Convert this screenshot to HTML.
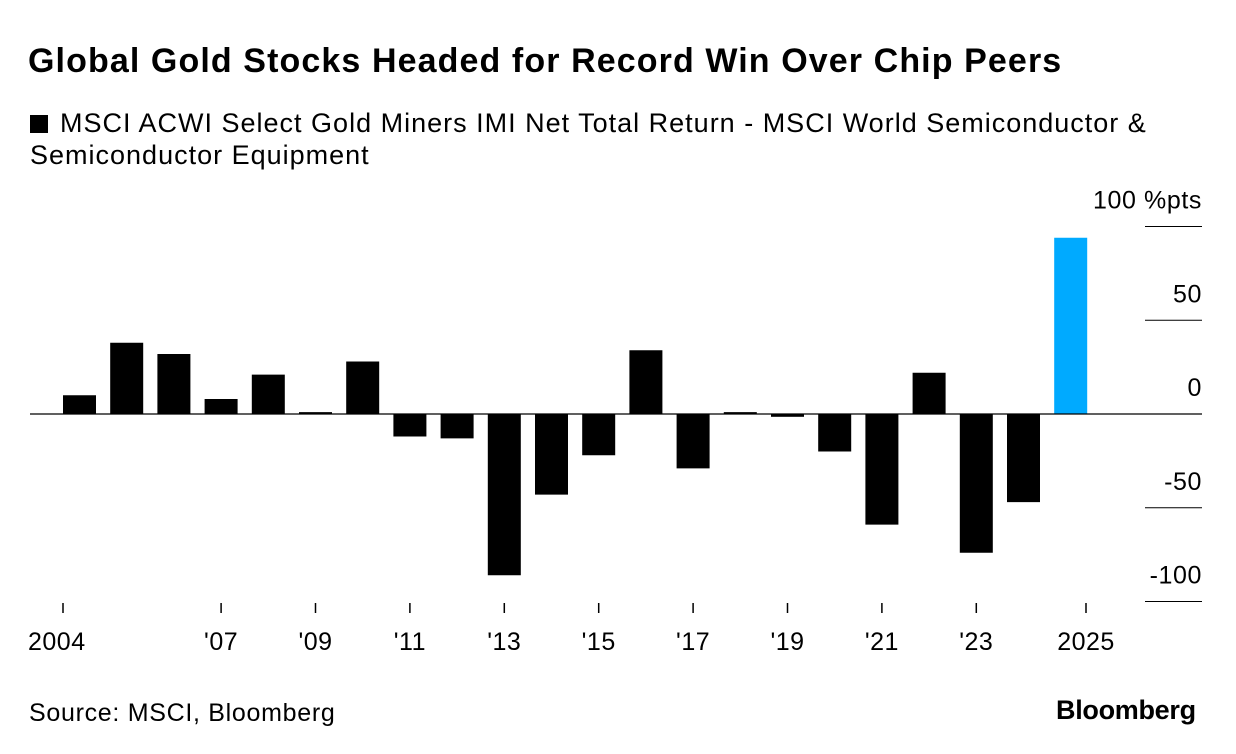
<!DOCTYPE html>
<html><head><meta charset="utf-8"><style>
body{margin:0;background:#fff;font-family:"Liberation Sans",sans-serif;}
#wrap{position:relative;width:1236px;height:754px;overflow:hidden;}
.t{position:absolute;color:#000;white-space:nowrap;}
</style></head><body>
<div id="wrap">
<div class="t" style="left:28px;top:42px;font-size:34px;font-weight:bold;letter-spacing:1.1px">Global Gold Stocks Headed for Record Win Over Chip Peers</div>
<div class="t" style="left:30px;top:107px;font-size:27px;line-height:32px;letter-spacing:1px"><span style="display:inline-block;width:18px;height:18px;background:#000;margin-right:12px;vertical-align:-1px"></span>MSCI ACWI Select Gold Miners IMI Net Total Return - MSCI World Semiconductor &amp;<br>Semiconductor Equipment</div>
<svg id="chart" width="1236" height="754" style="position:absolute;left:0;top:0"></svg>
<div class="t" style="left:29px;top:699px;font-size:25px;letter-spacing:0.7px">Source: MSCI, Bloomberg</div>
<div class="t" style="left:1056px;top:695px;font-size:27px;font-weight:bold;letter-spacing:-0.3px">Bloomberg</div>
</div>
<script>
const years=[2004,2005,2006,2007,2008,2009,2010,2011,2012,2013,2014,2015,2016,2017,2018,2019,2020,2021,2022,2023,2024,2025];
const values=[10,38,32,8,21,1,28,-12,-13,-86,-43,-22,34,-29,1,-1.5,-20,-59,22,-74,-47,94];
const yTicks=[100,50,0,-50,-100];
const xTickYears=[2004,2007,2009,2011,2013,2015,2017,2019,2021,2023,2025];
const xTickLabels=["2004","'07","'09","'11","'13","'15","'17","'19","'21","'23","2025"];
const NS="http://www.w3.org/2000/svg";
const svg=document.getElementById('chart');
const y0=414,ppu=1.875;
const yS=v=>y0-v*ppu;
const xS=yr=>79.5+(yr-2004)*47.2;
const bw=33;
function mk(t,a){const e=document.createElementNS(NS,t);for(const k in a)e.setAttribute(k,a[k]);svg.appendChild(e);return e;}
yTicks.forEach((v,i)=>{
  const l=mk('line',{x1:1145,x2:1202,y1:yS(v),y2:yS(v),stroke:'#000','stroke-width':1});
  
  
  const t=mk('text',{x:1202,y:yS(v)-18,'text-anchor':'end','font-size':25,'letter-spacing':0.6,'font-family':'Liberation Sans, sans-serif'});
  t.textContent=v+(i===0?' %pts':'');
  
  
});
years.forEach((yr,i)=>{
  const v=values[i];
  const r=mk('rect',{x:xS(yr)-bw/2,y:Math.min(yS(v),y0),width:bw,height:Math.abs(yS(v)-y0),fill:yr===2025?'#00aaff':'#000'});
  
  
});
const z=mk('line',{x1:30,x2:1202,y1:y0,y2:y0,stroke:'#000','stroke-width':1.2});


xTickYears.forEach((yr,i)=>{
  let x=xS(yr);
  if(yr===2004)x=63; if(yr===2025)x=1086;
  const l=mk('line',{x1:x,x2:x,y1:603,y2:613,stroke:'#000','stroke-width':1.5});
  
  
  const t=mk('text',{x:yr===2004?28:x,y:650,'text-anchor':yr===2004?'start':'middle','font-size':25,'letter-spacing':0.5,'font-family':'Liberation Sans, sans-serif'});
  t.textContent=xTickLabels[i];
  
  
});
</script>
</body></html>
